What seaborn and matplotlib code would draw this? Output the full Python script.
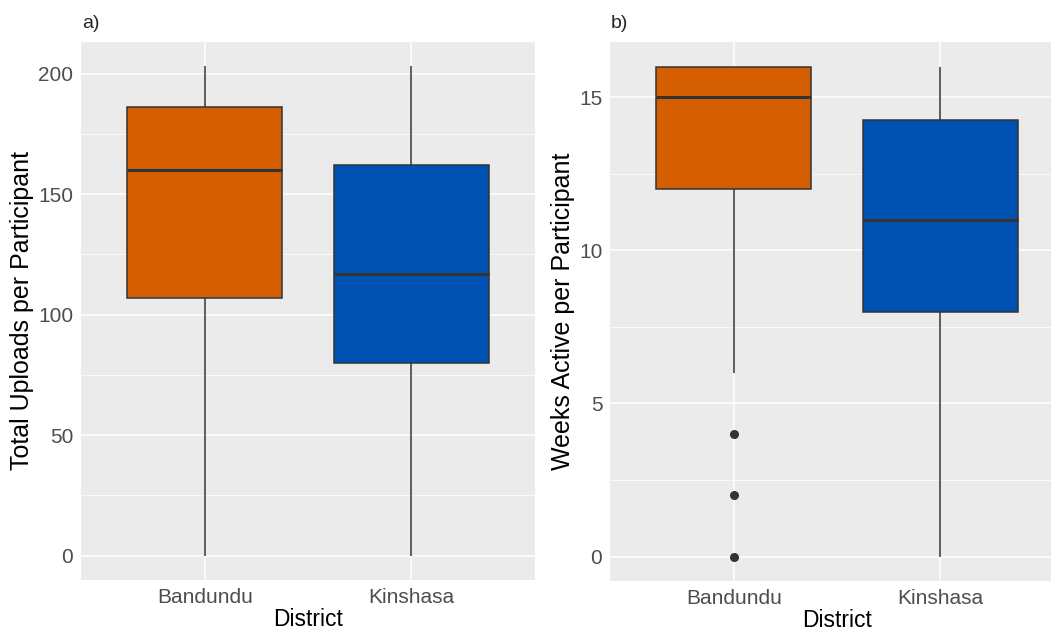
import numpy as np
import pandas as pd
import seaborn as sns
import matplotlib
matplotlib.use("Agg")
import matplotlib.pyplot as plt
from matplotlib.ticker import MultipleLocator

# ───── data ──────────────────────────────────────────────────────────────────
districts = ["Bandundu", "Kinshasa"]
colours = ["#D55E00", "#0052B2"]

# a) total uploads per participant (min, Q1, median, Q3, max)
uploads_bandundu = [0, 107, 160, 186, 203]
uploads_kinshasa = [0, 80, 117, 162, 203]

# b) weeks active per participant (Bandundu has outliers at 0, 2, 4)
weeks_bandundu = [0, 2, 4, 6, 12, 12, 13, 14, 15, 15, 16, 16, 16, 16, 16, 16, 16]
weeks_kinshasa = [0, 8, 11, 14.25, 16]

uploads_ticks = [0, 50, 100, 150, 200]
weeks_ticks = [0, 5, 10, 15]


def long_df(values_by_district, col):
    rows = []
    for d, vals in zip(districts, values_by_district):
        rows += [{"District": d, col: v} for v in vals]
    return pd.DataFrame(rows)


uploads = long_df([uploads_bandundu, uploads_kinshasa], "Uploads")
weeks = long_df([weeks_bandundu, weeks_kinshasa], "Weeks")

# ───── style (ggplot theme_grey look) ────────────────────────────────────────
sns.set_style("white")
plt.rcParams["font.family"] = ["Liberation Sans", "DejaVu Sans"]

fig = plt.figure(figsize=(10.51, 6.3), dpi=100)
W, H = 1051, 630
ax_a = fig.add_axes([81 / W, 1 - 580 / H, 454 / W, 538 / H])
ax_b = fig.add_axes([610 / W, 1 - 581 / H, 454 / W, 539 / H])

line_col = "#333333"


def draw(ax, df, col, ticks, ylim, ylabel, tag, ylab_x):
    ax.set_facecolor("#EBEBEB")
    sns.boxplot(data=df, x="District", y=col, hue="District",
                order=districts, hue_order=districts, palette=colours,
                width=0.75, linewidth=1.1, linecolor=line_col,
                saturation=1, legend=False, showcaps=False,
                medianprops=dict(linewidth=2.2, color=line_col),
                flierprops=dict(marker="o", markersize=5.5,
                                markerfacecolor=line_col,
                                markeredgecolor=line_col),
                ax=ax, zorder=3)
    ax.set_xlim(-0.6, 1.6)
    ax.set_ylim(*ylim)
    ax.set_yticks(ticks)
    ax.yaxis.set_minor_locator(MultipleLocator((ticks[1] - ticks[0]) / 2))
    ax.grid(which="major", color="white", linewidth=1.1)
    ax.grid(which="minor", axis="y", color="white", linewidth=0.55)
    ax.set_axisbelow(True)
    for s in ax.spines.values():
        s.set_visible(False)
    ax.tick_params(axis="both", which="major", length=2.5, width=0.8,
                   color=line_col, labelsize=15, labelcolor="#4D4D4D", pad=3)
    ax.tick_params(axis="y", which="minor", length=0)
    ax.set_xlabel("District", fontsize=16.5, color="black")
    ax.xaxis.set_label_coords(0.5, -0.052)
    ax.set_ylabel(ylabel, fontsize=18, color="black")
    ax.yaxis.set_label_coords(ylab_x, 0.5)
    ax.text(0.002, 1.018, tag, transform=ax.transAxes, fontsize=14,
            ha="left", va="bottom")


draw(ax_a, uploads, "Uploads", uploads_ticks, (-10.15, 213.15),
     "Total Uploads per Participant", "a)", -0.104)
draw(ax_b, weeks, "Weeks", weeks_ticks, (-0.8, 16.8),
     "Weeks Active per Participant", "b)", -0.077)

fig.savefig("out.png", dpi=100)
